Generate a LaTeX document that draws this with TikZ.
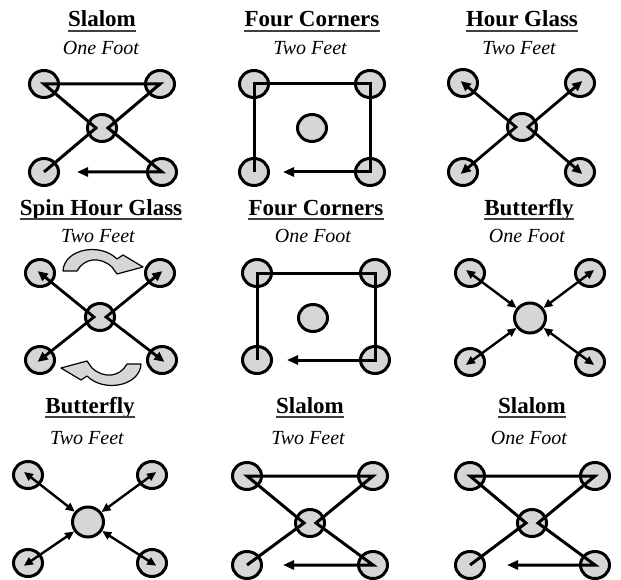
\documentclass[tikz,border=0pt]{standalone}
\usepackage{fontspec}
\setmainfont{Liberation Serif}
\usetikzlibrary{arrows.meta,shapes.geometric}

\tikzset{
  cone/.style={ellipse,draw=black,fill=black!16,line width=3pt,
    minimum width=29pt,minimum height=27pt,inner sep=0pt},
  bigcone/.style={cone,minimum width=31pt,minimum height=30pt},
  ttl/.style={anchor=base,inner sep=0pt,font=\fontsize{23}{26}\selectfont\bfseries},
  sub/.style={anchor=base,inner sep=0pt,font=\fontsize{20}{23}\selectfont\itshape},
  uline/.style={draw=black!75,line width=1.8pt},
  run/.style={draw=black,line width=3pt,-{Triangle[length=11pt,width=9pt]}},
  glass/.style={draw=black,line width=2.8pt,
    {Triangle[length=10pt,width=9pt]}-{Triangle[length=10pt,width=9pt]},
    shorten <=-3pt,shorten >=-3pt},
  fly/.style={draw=black,line width=2.4pt,
    {Triangle[length=9pt,width=8pt]}-{Triangle[length=9pt,width=8pt]},
    shorten <=-5pt},
  spin/.style={draw=black,fill=black!16,line width=1.2pt,line join=round}
}

\begin{document}
\begin{tikzpicture}[x=1pt,y=-1pt]
\useasboundingbox (0,0) rectangle (621,580);
% row 1: slalom one foot
\node[ttl] (ta) at (102,27) {Slalom};
\draw[uline] ([yshift=-4pt]ta.base west) -- ([yshift=-4pt]ta.base east);
\node[sub] (sa) at (101,55) {One Foot};
\foreach \n/\x/\y in {atl/44/84,atr/160/84,ac/102/128,abl/44/172,abr/162/172}
  \node[cone] (\n) at (\x,\y) {};
\coordinate (al) at (96,128);
\coordinate (ar) at (108,128);
\coordinate (aend) at (77,172);
\draw[run] (abl.center) -- (al) -- (atl.center) -- (atr.center) -- (ar) -- (abr.center) -- (aend);
% four corners two feet
\node[ttl] (tb) at (312,27) {Four Corners};
\draw[uline] ([yshift=-4pt]tb.base west) -- ([yshift=-4pt]tb.base east);
\node[sub] (sb) at (310,55) {Two Feet};
\foreach \n/\x/\y in {btl/254/84,btr/370/84,bc/312/128,bbl/254/172,bbr/370/172}
  \node[cone] (\n) at (\x,\y) {};
\coordinate (bend) at (283,172);
\draw[run] (bbl.center) -- (btl.center) -- (btr.center) -- (bbr.center) -- (bend);
% hour glass two feet
\node[ttl] (tc) at (522,27) {Hour Glass};
\draw[uline] ([yshift=-4pt]tc.base west) -- ([yshift=-4pt]tc.base east);
\node[sub] (sc) at (519,55) {Two Feet};
\foreach \n/\x/\y in {ctl/463/83,ctr/580/83,cc/522/127,cbl/463/172,cbr/580/172}
  \node[cone] (\n) at (\x,\y) {};
\coordinate (cl) at (516,127);
\coordinate (cr) at (528,127);
\draw[glass] (ctl.center) -- (cl) -- (cbl.center);
\draw[glass] (ctr.center) -- (cr) -- (cbr.center);
% row 2: spin hour glass
\node[ttl] (td) at (101,215) {Spin Hour Glass};
\draw[uline] ([yshift=-4pt]td.base west) -- ([yshift=-4pt]td.base east);
\node[sub] (sd) at (98,243) {Two Feet};
\foreach \n/\x/\y in {dtl/40/273,dtr/160/273,dc/100/317,dbl/40/360,dbr/162/360}
  \node[cone] (\n) at (\x,\y) {};
\coordinate (dl) at (94,317);
\coordinate (dr) at (106,317);
\draw[glass] (dtl.center) -- (dl) -- (dbl.center);
\draw[glass] (dtr.center) -- (dr) -- (dbr.center);
\path[spin] (63,271) .. controls (64,249) and (100,242) .. (117,259) -- (123,255)
  -- (143,267) -- (117,274) -- (112,267) .. controls (100,256) and (84,258) .. (77,271) -- cycle;
\path[spin] (141,364) .. controls (140,386) and (104,393) .. (87,376) -- (81,380)
  -- (61,368) -- (87,361) -- (92,368) .. controls (104,379) and (120,377) .. (127,364) -- cycle;
% four corners one foot
\node[ttl] (te) at (316,215) {Four Corners};
\draw[uline] ([yshift=-4pt]te.base west) -- ([yshift=-4pt]te.base east);
\node[sub] (se) at (313,243) {One Foot};
\foreach \n/\x/\y in {etl/257/273,etr/375/273,ec/313/318,ebl/257/360,ebr/375/360}
  \node[cone] (\n) at (\x,\y) {};
\coordinate (eend) at (287,360);
\draw[run] (ebl.center) -- (etl.center) -- (etr.center) -- (ebr.center) -- (eend);
% butterfly one foot
\node[ttl] (tf) at (529,215) {Butterfly};
\draw[uline] ([yshift=-4pt]tf.base west) -- ([yshift=-4pt]tf.base east);
\node[sub] (sf) at (527,243) {One Foot};
\foreach \n/\x/\y in {ftl/470/273,ftr/590/273,fbl/470/362,fbr/590/362}
  \node[cone] (\n) at (\x,\y) {};
\node[bigcone] (fc) at (530,318) {};
\foreach \n in {ftl,ftr,fbl,fbr}
  \draw[fly] (\n.center) -- (fc);
% row 3: butterfly two feet
\node[ttl] (tg) at (90,413) {Butterfly};
\draw[uline] ([yshift=-4pt]tg.base west) -- ([yshift=-4pt]tg.base east);
\node[sub] (sg) at (87,444) {Two Feet};
\foreach \n/\x/\y in {gtl/28/475,gtr/152/475,gbl/28/563,gbr/152/563}
  \node[cone] (\n) at (\x,\y) {};
\node[bigcone] (gc) at (88,522) {};
\foreach \n in {gtl,gtr,gbl,gbr}
  \draw[fly] (\n.center) -- (gc);
% slalom two feet
\node[ttl] (th) at (310,413) {Slalom};
\draw[uline] ([yshift=-4pt]th.base west) -- ([yshift=-4pt]th.base east);
\node[sub] (sh) at (308,444) {Two Feet};
\foreach \n/\x/\y in {htl/247/476,htr/373/476,hc/310/523,hbl/247/565,hbr/373/565}
  \node[cone] (\n) at (\x,\y) {};
\coordinate (hl) at (304,523);
\coordinate (hr) at (316,523);
\coordinate (hend) at (283,565);
\draw[run] (hbl.center) -- (hl) -- (htl.center) -- (htr.center) -- (hr) -- (hbr.center) -- (hend);
% slalom one foot
\node[ttl] (ti) at (532,413) {Slalom};
\draw[uline] ([yshift=-4pt]ti.base west) -- ([yshift=-4pt]ti.base east);
\node[sub] (si) at (529,444) {One Foot};
\foreach \n/\x/\y in {itl/470/476,itr/595/476,ic/532/523,ibl/470/565,ibr/595/565}
  \node[cone] (\n) at (\x,\y) {};
\coordinate (il) at (526,523);
\coordinate (ir) at (538,523);
\coordinate (iend) at (507,565);
\draw[run] (ibl.center) -- (il) -- (itl.center) -- (itr.center) -- (ir) -- (ibr.center) -- (iend);
\end{tikzpicture}
\end{document}
